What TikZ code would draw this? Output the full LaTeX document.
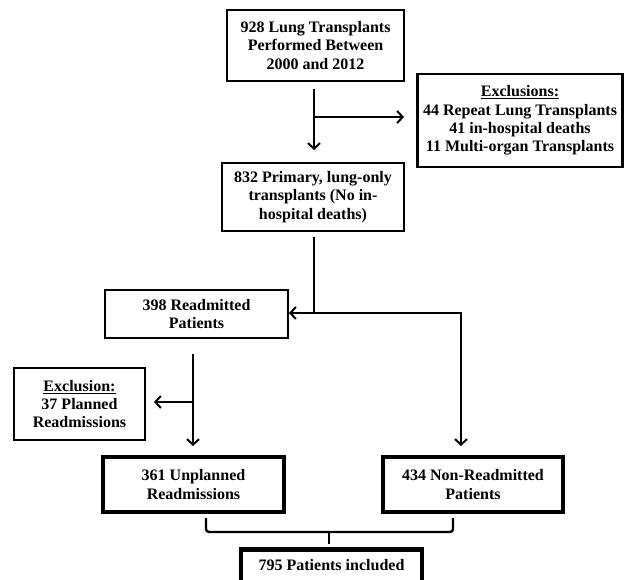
\documentclass[tikz,border=0pt]{standalone}
\usepackage{fontspec}
\setmainfont{Liberation Serif}
\usetikzlibrary{arrows.meta}
\begin{document}
\begin{tikzpicture}[x=1pt,y=-1pt,
  box/.style={draw,line width=2.6pt,rectangle,align=center,inner sep=1pt,
    font=\fontsize{16}{18.3}\selectfont\bfseries},
  thickbox/.style={box,line width=4.5pt},
  conn/.style={line width=2pt},
  arr/.style={conn,-{Straight Barb[length=5.5pt,width=12pt,line width=2pt]}}]
\useasboundingbox (0,0) rectangle (624,580);
\clip (0,0) rectangle (624,580);
\node[box,minimum width=177pt,minimum height=71pt] (b1) at (315.5,45.5)
  {928 Lung Transplants\\Performed Between\\2000 and 2012};
\node[box,minimum width=205pt,minimum height=93pt] (ex1) at (520,120.5)
  {\underline{Exclusions:}\\44 Repeat Lung Transplants\\41 in-hospital deaths\\11 Multi-organ Transplants};
\node[box,minimum width=182pt,minimum height=68pt] (b2) at (313,197)
  {832 Primary, lung-only\\transplants (No in-\\hospital deaths)};
\node[box,minimum width=183pt,minimum height=48pt] (b3) at (196.5,314)
  {398 Readmitted\\Patients};
\node[box,minimum width=131pt,minimum height=72pt] (ex2) at (79.5,404)
  {\underline{Exclusion:}\\37 Planned\\Readmissions};
\node[thickbox,minimum width=181pt,minimum height=55pt] (b4) at (193.5,484.5)
  {361 Unplanned\\Readmissions};
\node[thickbox,minimum width=180pt,minimum height=55pt] (b5) at (473,484.5)
  {434 Non-Readmitted\\Patients};
\node[thickbox,minimum width=181pt,minimum height=55pt,anchor=north] (b6) at (331.5,547)
  {795 Patients included\\\strut};
% coordinates
\coordinate (s1) at (314,89);
\coordinate (e1) at (314,150);
\coordinate (j1) at (314,117);
\coordinate (t1) at (404,117);
\coordinate (s2) at (314,237);
\coordinate (j2) at (314,313);
\coordinate (t2) at (289,313);
\coordinate (c2) at (461,313);
\coordinate (e2) at (461,446);
\coordinate (s3) at (193,354);
\coordinate (e3) at (193,446);
\coordinate (j3) at (193,402);
\coordinate (t3) at (154,402);
% connectors
\draw[arr] (s1) -- (e1);
\draw[arr] (j1) -- (t1);
\draw[conn] (s2) -- (j2);
\draw[arr] (j2) -- (t2);
\draw[arr] (j2) -- (c2) -- (e2);
\draw[arr] (s3) -- (e3);
\draw[arr] (j3) -- (t3);
% bracket
\coordinate (bl) at (206,518);
\coordinate (br) at (453,518);
\coordinate (bm) at (329,532);
\coordinate (bs) at (329,544);
\draw[conn,line width=2.4pt,rounded corners=3pt] (bl) -- (206,532) -- (453,532) -- (br);
\draw[conn,line width=2.4pt] (bm) -- (bs);
\end{tikzpicture}
\end{document}
